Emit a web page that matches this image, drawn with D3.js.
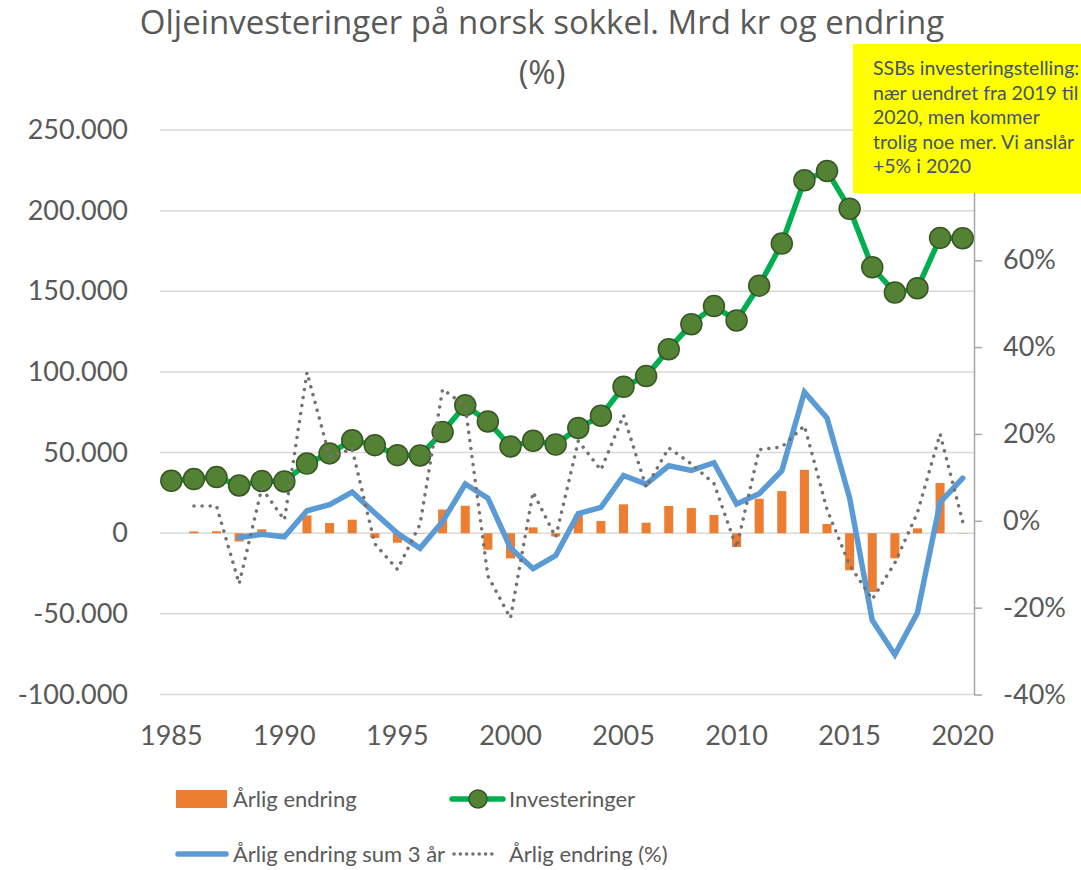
<!DOCTYPE html>
<html>
<head>
<meta charset="utf-8">
<script src="https://cdn.jsdelivr.net/npm/d3@7"></script>
<style>
  body { margin: 0; background: #fff; }
  text { font-family: Lato, "Open Sans", sans-serif; fill: #595959; }
</style>
</head>
<body>
<svg id="chart" width="1081" height="870"></svg>
<script>
// Categories
const years = [1985, 1986, 1987, 1988, 1989, 1990, 1991, 1992, 1993, 1994, 1995, 1996,
               1997, 1998, 1999, 2000, 2001, 2002, 2003, 2004, 2005, 2006, 2007, 2008,
               2009, 2010, 2011, 2012, 2013, 2014, 2015, 2016, 2017, 2018, 2019, 2020];

// Investeringer (mill. kr)
const investeringer = [32500, 33600, 34800, 29600, 32300, 32100, 43200, 49500, 57700, 54600, 48400, 48200,
                       62700, 79400, 69300, 53800, 57300, 55000, 65200, 72800, 90800, 97400, 114100, 129600,
                       140800, 131900, 153500, 179600, 218800, 224600, 201200, 164900, 149200, 151900, 183100, 182900];

// Årlig endring (bars, left axis)
const aarligEndring = [null, 1100, 1200, -5100, 2400, -200, 11000, 6300, 8400, -3000, -5900, -200,
                       14700, 17000, -10200, -15600, 3600, -2000, 11500, 7600, 17900, 6500, 16900, 15600,
                       11300, -8600, 21400, 26100, 39300, 5700, -23000, -36400, -15600, 3000, 31100, -200];

// Årlig endring sum 3 år (left axis)
const sum3aar = [null, null, null, -2600, -700, -2200, 13900, 17700, 25500, 12500, 0, -9400,
                 7300, 30500, 21800, -9200, -22000, -13900, 12100, 16000, 35800, 30500, 41800, 38900,
                 43700, 18100, 24500, 38700, 87500, 71400, 21800, -54000, -75300, -49400, 19100, 34200];

// Årlig endring (%) (right axis)
const endringPst = [null, 0.034, 0.034, -0.145, 0.075, 0.002, 0.342, 0.148, 0.165, -0.053, -0.112, -0.008,
                    0.303, 0.265, -0.127, -0.224, 0.066, -0.038, 0.184, 0.117, 0.243, 0.077, 0.168, 0.131,
                    0.086, -0.062, 0.164, 0.170, 0.219, 0.026, -0.102, -0.181, -0.097, 0.019, 0.200, -0.002];

// Tick labels
const leftTicks = [-100000, -50000, 0, 50000, 100000, 150000, 200000, 250000];
const rightTicks = [-0.4, -0.2, 0, 0.2, 0.4, 0.6, 0.8];
const yearTicks = [1985, 1990, 1995, 2000, 2005, 2010, 2015, 2020];

const noteLines = ["SSBs investeringstelling:", "nær uendret fra 2019 til", "2020, men kommer",
                   "trolig noe mer. Vi anslår", "+5% i 2020"];

const nb = d3.formatLocale({decimal: ",", thousands: ".", grouping: [3], currency: ["", " kr"], minus: "-"});

const svg = d3.select('#chart');
svg.append('rect').attr('width', 1081).attr('height', 870).attr('fill', '#fff');

const plot = {left: 160, right: 974, top: 130, bottom: 694.5};

// Scales
const x = d3.scaleBand().domain(years).range([plot.left, plot.right]);
const xc = d => x(d) + x.bandwidth() / 2;
const y = d3.scaleLinear().domain([-100000, 250000]).range([plot.bottom, plot.top]);
const y2 = d3.scaleLinear().domain([-0.4, 0.9]).range([plot.bottom, plot.top]);

// Gridlines
svg.append('g').selectAll('line')
   .data(leftTicks)
   .enter().append('line')
   .attr('x1', plot.left).attr('x2', plot.right)
   .attr('y1', d => y(d)).attr('y2', d => y(d))
   .attr('stroke', '#D9D9D9').attr('stroke-width', 1.5);

// Left axis
const gl = svg.append('g')
   .attr('transform', `translate(${plot.left},0)`)
   .call(d3.axisLeft(y).tickValues(leftTicks).tickSize(0).tickPadding(32).tickFormat(nb.format(',')));
gl.select('.domain').remove();

// Bottom axis
const gb = svg.append('g')
   .attr('transform', `translate(0,${plot.bottom})`)
   .call(d3.axisBottom(x).tickValues(yearTicks).tickSize(0).tickPadding(31));
gb.select('.domain').remove();

// Right axis
const gr = svg.append('g')
   .attr('transform', `translate(${plot.right},0)`)
   .call(d3.axisRight(y2).tickValues(rightTicks).tickSize(8).tickSizeOuter(0).tickPadding(21)
         .tickFormat(nb.format('.0%')));
gr.selectAll('.domain, line').attr('stroke', '#A6A6A6').attr('stroke-width', 1.5);

svg.selectAll('.tick text')
   .attr('fill', '#595959')
   .style('font-family', 'Lato, sans-serif')
   .style('font-size', '27px');

// Bars
const barW = x.bandwidth() * 0.4;
svg.append('g').selectAll('rect')
   .data(years.map((d, i) => ({year: d, v: aarligEndring[i]})).filter(d => d.v !== null))
   .enter().append('rect')
   .attr('x', d => xc(d.year) - barW / 2)
   .attr('width', barW)
   .attr('y', d => y(Math.max(0, d.v)))
   .attr('height', d => Math.abs(y(d.v) - y(0)))
   .attr('fill', '#ED7D31');

// Investeringer line + markers
const invData = years.map((d, i) => ({year: d, v: investeringer[i]}));
const lineL = d3.line().defined(d => d.v !== null).x(d => xc(d.year)).y(d => y(d.v));
svg.append('path')
   .datum(invData)
   .attr('d', lineL)
   .attr('fill', 'none')
   .attr('stroke', '#00B050')
   .attr('stroke-width', 5.5)
   .attr('stroke-linejoin', 'round');
svg.append('g').selectAll('circle')
   .data(invData)
   .enter().append('circle')
   .attr('cx', d => xc(d.year))
   .attr('cy', d => y(d.v))
   .attr('r', 10.5)
   .attr('fill', '#548235')
   .attr('stroke', '#375623')
   .attr('stroke-width', 1.5);

// Sum 3 år
svg.append('path')
   .datum(years.map((d, i) => ({year: d, v: sum3aar[i]})))
   .attr('d', lineL)
   .attr('fill', 'none')
   .attr('stroke', '#5B9BD5')
   .attr('stroke-width', 5.5)
   .attr('stroke-linecap', 'round');

// Årlig endring (%)
const lineR = d3.line().defined(d => d.v !== null).x(d => xc(d.year)).y(d => y2(d.v));
svg.append('path')
   .datum(years.map((d, i) => ({year: d, v: endringPst[i]})))
   .attr('d', lineR)
   .attr('fill', 'none')
   .attr('stroke', '#767171')
   .attr('stroke-width', 3.5)
   .attr('stroke-linecap', 'round')
   .attr('stroke-dasharray', '0.1,8');

// Title
const title = svg.append('text')
   .attr('text-anchor', 'middle')
   .style('font-family', '"Open Sans", sans-serif')
   .style('font-size', '33px');
title.append('tspan').attr('x', 542).attr('y', 34).text('Oljeinvesteringer på norsk sokkel. Mrd kr og endring');
title.append('tspan').attr('x', 542).attr('y', 84).text('(%)');

// Legend
const lg = svg.append('g').style('font-size', '22px');
lg.append('rect').attr('x', 176).attr('y', 790).attr('width', 51).attr('height', 18).attr('fill', '#ED7D31');
lg.append('text').attr('x', 233).attr('y', 799).attr('dy', '0.38em').text('Årlig endring');

lg.append('line').attr('x1', 452).attr('x2', 503).attr('y1', 799).attr('y2', 799)
  .attr('stroke', '#00B050').attr('stroke-width', 5.5).attr('stroke-linecap', 'round');
lg.append('circle').attr('cx', 478).attr('cy', 799).attr('r', 9)
  .attr('fill', '#548235').attr('stroke', '#375623').attr('stroke-width', 1.5);
lg.append('text').attr('x', 509).attr('y', 799).attr('dy', '0.38em').text('Investeringer');

lg.append('line').attr('x1', 178).attr('x2', 226).attr('y1', 854).attr('y2', 854)
  .attr('stroke', '#5B9BD5').attr('stroke-width', 5.5).attr('stroke-linecap', 'round');
lg.append('text').attr('x', 233).attr('y', 854).attr('dy', '0.38em').text('Årlig endring sum 3 år');

lg.append('line').attr('x1', 454).attr('x2', 498).attr('y1', 854).attr('y2', 854)
  .attr('stroke', '#767171').attr('stroke-width', 3.5).attr('stroke-linecap', 'round')
  .attr('stroke-dasharray', '0.1,6.2');
lg.append('text').attr('x', 509).attr('y', 854).attr('dy', '0.38em').text('Årlig endring (%)');

// Yellow note box
svg.append('rect').attr('x', 853).attr('y', 44).attr('width', 240).attr('height', 149).attr('fill', '#FFFF00');
svg.append('g').selectAll('text')
   .data(noteLines)
   .enter().append('text')
   .attr('x', 873)
   .attr('y', (d, i) => 75 + i * 24.5)
   .style('font-size', '19.5px')
   .style('fill', '#44546A')
   .text(d => d);
</script>
</body>
</html>
